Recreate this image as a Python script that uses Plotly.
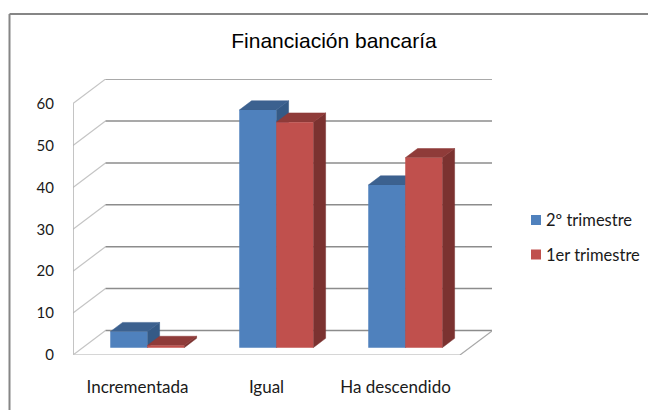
import plotly.graph_objects as go

categories = ["Incrementada", "Igual", "Ha descendido"]
serie_2t = [3.8, 56.7, 38.8]
serie_1t = [0.5, 53.8, 45.3]
y_ticks = [0, 10, 20, 30, 40, 50, 60]
title = "Financiación bancaría"

W, H = 648, 410
L, R_PX, B_Y, T_Y = 73, 492, 355, 79
PX_CAT = 129.0
PX_UNIT = 4.19
DX = 32.5 / PX_CAT
DY = 24.5 / PX_UNIT
BAR_W = 37 / PX_CAT
BAR_D0 = 0.30
BAR_D = 0.38
NCAT = len(categories)

GRID = "#8c8c8c"
WALL = "#c4c4c4"


def px(x):
    return (x - L) / (R_PX - L)


def py(y):
    return (B_Y - y) / (B_Y - T_Y)


fig = go.Figure()


def line(xs, ys, color=GRID, width=1.5):
    fig.add_trace(go.Scatter(x=xs, y=ys, mode="lines", line=dict(color=color, width=width),
                             showlegend=False, hoverinfo="skip", cliponaxis=False, zorder=0))


def face(xs, ys, color, z):
    fig.add_trace(go.Scatter(x=xs + xs[:1], y=ys + ys[:1], mode="lines", fill="toself",
                             fillcolor=color, line=dict(color=color, width=0.5),
                             showlegend=False, hoverinfo="skip", cliponaxis=False, zorder=z))


for v in y_ticks:
    line([0, DX], [v, v + DY], WALL, 1.2)
    if v > 0:
        line([DX, NCAT + DX], [v + DY, v + DY])
line([DX, NCAT + DX], [DY, DY])
line([0, 0], [0, y_ticks[-1]], "#b0b0b0", 1.5)
line([0, NCAT], [0, 0], "#c8c8c8", 1.5)
line([NCAT, NCAT + DX], [0, DY], "#a8a8a8", 1.2)

ox = BAR_D0 * DX
oy = BAR_D0 * DY
dx = BAR_D * DX
dy = BAR_D * DY

series = [
    ("2º trimestre", serie_2t, "#4f81bd", "#3c618f", "#355a86", -1, 1),
    ("1er trimestre", serie_1t, "#c0504d", "#8f3b39", "#7b3230", 0, 3),
]

for name, vals, front, top, side, off, z in series:
    for i, v in enumerate(vals):
        x0 = i + 0.5 + ox + off * BAR_W
        x1 = x0 + BAR_W
        y0 = oy
        y1 = oy + v
        face([x1, x1 + dx, x1 + dx, x1], [y0, y0 + dy, y1 + dy, y1], side, z)
        face([x0, x1, x1 + dx, x0 + dx], [y1, y1, y1 + dy, y1 + dy], top, z)
    fig.add_trace(go.Bar(
        x=[i + 0.5 + ox + (off + 0.5) * BAR_W for i in range(NCAT)],
        y=vals, base=[oy] * NCAT, width=BAR_W, name=name, showlegend=False,
        marker=dict(color=front, line=dict(width=0)), cliponaxis=False, zorder=z + 1,
    ))

num_font = dict(family="Lato, sans-serif", size=15, color="#1a1a1a")
text_font = dict(family="Lato, sans-serif", size=17, color="#1a1a1a")
legend_font = dict(family="Lato, sans-serif", size=16.5, color="#1a1a1a")

fig.update_layout(
    width=W, height=H, barmode="overlay", paper_bgcolor="white", plot_bgcolor="rgba(0,0,0,0)",
    margin=dict(l=L, r=W - R_PX, t=T_Y, b=H - B_Y, autoexpand=False),
    title=dict(text=title, x=334 / W, xanchor="center", y=1 - 41 / H, yanchor="middle",
               font=dict(family="Liberation Sans, Arial, sans-serif", size=21, color="black")),
    xaxis=dict(range=[0, (R_PX - L) / PX_CAT], tickmode="array",
               tickvals=[i + 0.5 for i in range(NCAT)], ticktext=categories,
               showgrid=False, zeroline=False, showline=False, ticks="outside", ticklen=17,
               tickcolor="rgba(0,0,0,0)", tickfont=text_font),
    yaxis=dict(range=[0, (B_Y - T_Y) / PX_UNIT], tickmode="array", tickvals=y_ticks,
               showgrid=False, zeroline=False, showline=False, ticks="outside", ticklen=15,
               tickcolor="rgba(0,0,0,0)", tickfont=num_font),
    showlegend=False,
)

FRAME = dict(type="line", xref="paper", yref="paper", layer="below",
             line=dict(color="#868686", width=2))
fig.add_shape(x0=px(9.5), x1=px(9.5), y0=py(410), y1=py(14), **FRAME)
fig.add_shape(x0=px(9.5), x1=px(648), y0=py(14), y1=py(14), **FRAME)

for (name, vals, front, *_), cy in zip(series, [220, 254.5]):
    fig.add_shape(type="rect", xref="paper", yref="paper", x0=px(531), x1=px(541),
                  y0=py(cy - 5), y1=py(cy + 5), fillcolor=front, line=dict(width=0))
    fig.add_annotation(text=name, xref="paper", yref="paper", x=px(544.5), y=py(cy),
                       xanchor="left", yanchor="middle", showarrow=False, font=legend_font,
                       borderpad=0)

fig.write_html("out.html", config={"displayModeBar": False},
               post_script="document.body.style.margin='0';document.documentElement.style.overflow='hidden';")
